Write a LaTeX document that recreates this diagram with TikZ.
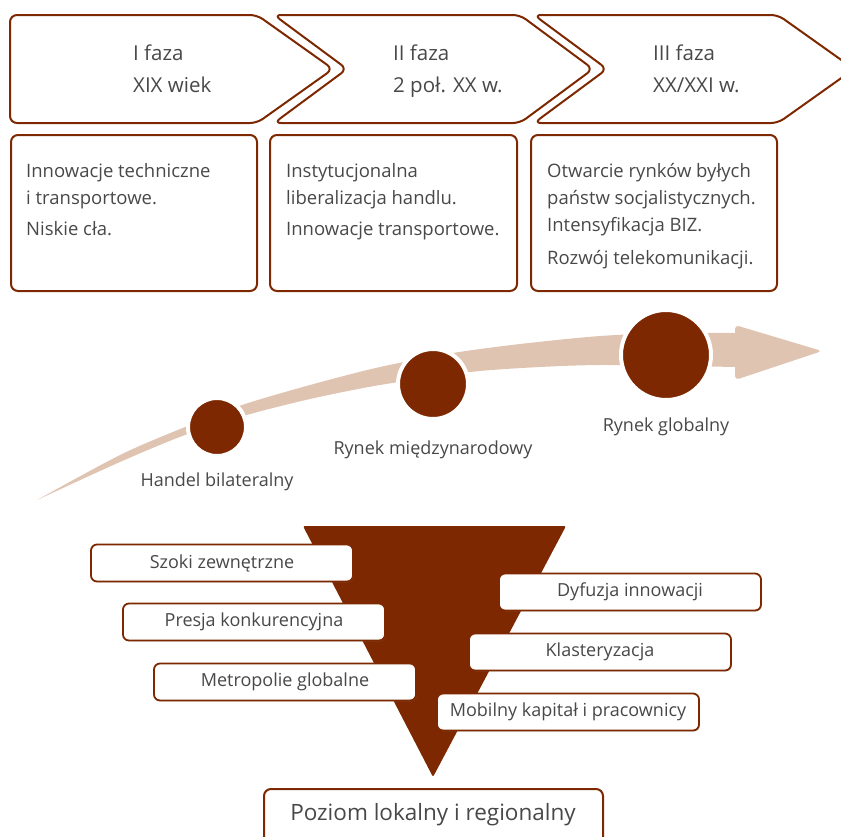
\documentclass[tikz,border=0pt]{standalone}
\usepackage{fontspec}
\setmainfont{Open Sans}
\usetikzlibrary{shadows}
\definecolor{rust}{RGB}{125,40,0}
\definecolor{sand}{RGB}{224,196,178}
\definecolor{ink}{RGB}{72,72,72}
\begin{document}
\begin{tikzpicture}[x=1pt,y=-1pt,
  chevron/.style={draw=rust,line width=2pt,rounded corners=7pt,line join=round},
  phase/.style={text=ink,align=left,inner sep=0pt,anchor=north west,
    font=\fontsize{20.5}{32}\selectfont},
  notebox/.style={draw=rust,line width=2pt,rounded corners=7pt},
  notetext/.style={text=ink,align=left,inner sep=0pt,anchor=north west,
    font=\fontsize{18.5}{27}\selectfont},
  stage/.style={circle,fill=rust,draw=white,line width=4pt,inner sep=0pt,outer sep=0pt},
  stagelabel/.style={text=ink,inner sep=0pt,font=\fontsize{18}{22}\selectfont},
  factor/.style={draw=rust,fill=white,line width=1.8pt,rounded corners=6pt,
    minimum width=262pt,minimum height=37pt,inner sep=0pt,text=ink,
    font=\fontsize{18}{22}\selectfont,
    drop shadow={shadow xshift=1pt,shadow yshift=-1pt,opacity=0.25}},
]
\useasboundingbox (0,0) rectangle (841,836);

% --- phase chevrons ---
\draw[chevron] (10,15) -- (257,15) -- (333,69) -- (257,123) -- (10,123) -- cycle;
\draw[chevron] (274,15) -- (520,15) -- (593,69) -- (520,123) -- (274,123) -- (347,69) -- cycle;
\draw[chevron] (534,15) -- (778,15) -- (854,69) -- (778,123) -- (534,123) -- (607,69) -- cycle;
\node[phase] (p1) at (133,45) {I faza\\XIX wiek};
\node[phase] (p2) at (393,45) {II faza\\2 poł. XX w.};
\node[phase] (p3) at (653,45) {III faza\\XX/XXI w.};

% --- phase descriptions ---
\draw[notebox] (11,135) rectangle (257,291);
\draw[notebox] (270,135) rectangle (517,291);
\draw[notebox] (531,135) rectangle (777,291);
\node[notetext] (d1) at (26,163) {Innowacje techniczne\\i transportowe.\\[4pt]Niskie cła.};
\node[notetext] (d2) at (286,163) {Instytucjonalna\\liberalizacja handlu.\\[4pt]Innowacje transportowe.};
\node[notetext] (d3) at (547,163) {Otwarcie rynków byłych\\państw socjalistycznych.\\Intensyfikacja BIZ.\\[6pt]Rozwój telekomunikacji.};

% --- growth arrow ---
\fill[sand] plot[smooth] coordinates {(37,500) (120,455) (185,427) (242,405) (310,385)
    (380,367) (453,353) (520,344) (600,336) (670,333) (740,333)}
  -- (740,367)
  -- plot[smooth] coordinates {(740,367) (670,366) (600,365) (540,367) (470,372)
    (380,385) (310,399) (247,415) (185,435) (120,462) (37,500)} -- cycle;
\fill[sand,rounded corners=4pt] (735,325) -- (822,351) -- (735,380) -- cycle;

\node[stage,minimum size=58pt] (s1) at (217,427) {};
\node[stage,minimum size=70pt] (s2) at (433,384) {};
\node[stage,minimum size=90pt] (s3) at (666,355) {};
\node[stagelabel] (l1) at (217,482) {Handel bilateralny};
\node[stagelabel] (l2) at (433,450) {Rynek międzynarodowy};
\node[stagelabel] (l3) at (666,427) {Rynek globalny};

% --- funnel and factors ---
\fill[rust,rounded corners=2pt] (303,526) -- (566,526) -- (433,777) -- cycle;
\node[factor] (f1) at (222,563) {Szoki zewnętrzne};
\node[factor] (f2) at (254,622) {Presja konkurencyjna};
\node[factor] (f3) at (285,682) {Metropolie globalne};
\node[factor] (f4) at (630,592) {Dyfuzja innowacji};
\node[factor] (f5) at (600,652) {Klasteryzacja};
\node[factor] (f6) at (568,712) {Mobilny kapitał i pracownicy};

\draw[notebox] (264,789) rectangle (603,860);
\node[text=ink,inner sep=0pt,font=\fontsize{22.5}{26}\selectfont] (base) at (433,815) {Poziom lokalny i regionalny};
\end{tikzpicture}
\end{document}
